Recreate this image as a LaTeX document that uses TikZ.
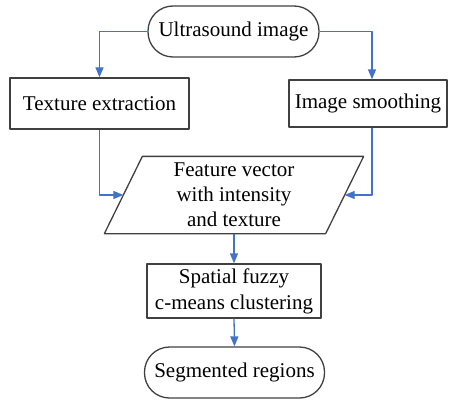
\documentclass[tikz,border=0pt]{standalone}
\usepackage{fontspec}
\setmainfont{Liberation Serif}
\usetikzlibrary{arrows.meta}
\definecolor{flowblue}{RGB}{68,114,196}
\begin{document}
\begin{tikzpicture}[x=1pt,y=-1pt,font=\fontsize{21}{25}\selectfont,
	line join=round,>={Triangle[length=10pt,width=8pt]},
	box/.style={draw=black!75,line width=1.3pt,inner sep=0pt,align=center},
	term/.style={box,rounded corners=25pt},
	link/.style={->,flowblue,line width=1.3pt}]
	\useasboundingbox (0,0) rectangle (449,401);
	\path (233.5,31.5)node[term,minimum width=171pt,minimum height=51pt](us){Ultrasound image}
	(99.5,103.5)node[box,minimum width=179pt,minimum height=51pt](tex){Texture extraction}
	(368,103.5)node[box,minimum width=158pt,minimum height=47pt](smo){Image smoothing}
	;
	\path (234,195)node[box,draw=none,minimum width=220pt,minimum height=76pt](fv){Feature vector\\with intensity\\and texture}
	(234,291)node[box,minimum width=174pt,minimum height=54pt,
	font=\fontsize{21}{26}\selectfont](fcm){Spatial fuzzy\\c-means clustering}
	(234.5,372.5)node[term,minimum width=180pt,minimum height=51pt](seg){Segmented regions}
	;
	% parallelogram round the feature vector text
	\draw[draw=black!75,line width=1.3pt]([xshift=19pt]fv.north west)--([xshift=19pt]fv.north east)
	--([xshift=-19pt]fv.south east)--([xshift=-19pt]fv.south west)--cycle;
	\draw[link](us.west)-|(tex.north);
	\draw[link](us.east)-|([xshift=4pt]smo.north);
	\draw[link](tex.south)|-(fv.west);
	\draw[link]([xshift=4pt]smo.south)|-(fv.east);
	\draw[link](fv.south)--(fcm.north);
	\draw[link](fcm.south)--(seg.north);
\end{tikzpicture}
\end{document}
